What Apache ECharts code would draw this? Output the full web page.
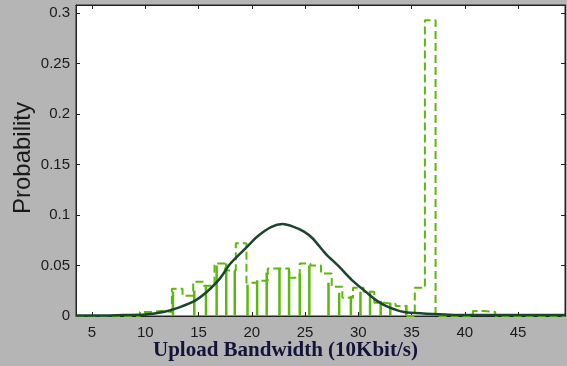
<!DOCTYPE html>
<html><head><meta charset="utf-8">
<script src="https://cdn.jsdelivr.net/npm/echarts@6/dist/echarts.min.js"></script>
<style>html,body{margin:0;padding:0;background:#b5b5b5}#c{width:567px;height:366px}</style>
</head><body><div id="c"></div>
<script>
// tick labels
const xTicks = [5, 10, 15, 20, 25, 30, 35, 40, 45];
const yTicks = [0, 0.05, 0.1, 0.15, 0.2, 0.25, 0.3];

// dashed histogram: bin edges and heights (height i spans edge i .. edge i+1)
const dashEdges = [3.5, 9.5, 10.5, 11.5, 12.5, 13.5, 14.5, 15.5, 16.5, 17.5, 18.5, 19.5, 20.5, 21.5, 22.5, 23.5, 24.5, 25.5, 26.5, 27.5, 28.5, 29.5, 30.5, 31.5, 32.5, 33.5, 34.5, 35.3, 36.25, 37.25, 40.75, 41.85, 42.85, 49.4];
const dashHeights = [0, 0.004, 0.005, 0.004, 0.027, 0.02, 0.034, 0.03, 0.052, 0.045, 0.072, 0.033, 0.035, 0.047, 0.047, 0.038, 0.052, 0.05, 0.042, 0.029, 0.018, 0.028, 0.024, 0.013, 0.012, 0.01, 0.0, 0.028, 0.293, 0, 0.005, 0.004, 0];

// solid vertical lines
const stemX = [12.6, 14.6, 15.7, 16.7, 17.6, 18.4, 19.6, 20.5, 21.4, 22.6, 23.5, 24.5, 25.4, 27.2, 28.2, 29.3, 30.2, 31.1, 32.1, 33.0, 34.5];
const stemY = [0.024, 0.025, 0.03, 0.05, 0.052, 0.045, 0.031, 0.035, 0.043, 0.047, 0.045, 0.042, 0.05, 0.033, 0.023, 0.02, 0.024, 0.025, 0.015, 0.013, 0.011];

// fitted curve
const curveX = [3.5, 5, 8, 10, 11.7, 13.2, 14.8, 16, 17, 18, 19.6, 20.5, 21.8, 22.9, 24, 24.9, 25.7, 26.9, 28.2, 29.4, 30.7, 31.9, 32.9, 34.3, 36.1, 40, 49.4];
const curveY = [0.0005, 0.0005, 0.001, 0.0015, 0.004, 0.0086, 0.016, 0.026, 0.037, 0.052, 0.069, 0.0785, 0.088, 0.091, 0.088, 0.0835, 0.077, 0.062, 0.0488, 0.0356, 0.024, 0.014, 0.0086, 0.004, 0.0025, 0.001, 0.001];

const stairs = [];
for (let i = 0; i < dashHeights.length; i++) {
  stairs.push([dashEdges[i], dashHeights[i]]);
  stairs.push([dashEdges[i + 1], dashHeights[i]]);
}
const stems = stemX.map((x, i) => [x, stemY[i]]);
const curve = curveX.map((x, i) => [x, curveY[i]]);

const GREEN = '#5cb80c';
const AX = '#222';
const lab = {fontFamily: 'Liberation Sans', fontSize: 15, color: '#1a1a1a'};

const chart = echarts.init(document.getElementById('c'));
chart.setOption({
  backgroundColor: '#b5b5b5',
  animation: false,
  grid: {left: 76, top: 5, right: 2, bottom: 50, show: true, backgroundColor: '#fff', borderColor: AX, borderWidth: 1},
  xAxis: [
    {type: 'value', min: 3.5, max: 49.4, position: 'bottom',
     axisLine: {show: true, onZero: false, lineStyle: {color: AX}},
     axisTick: {show: true, inside: true, length: 4, customValues: xTicks, lineStyle: {color: AX}},
     axisLabel: Object.assign({customValues: xTicks, margin: 9}, lab),
     splitLine: {show: false}},
    {type: 'value', min: 3.5, max: 49.4, position: 'top',
     axisLine: {show: true, onZero: false, lineStyle: {color: AX}},
     axisTick: {show: true, inside: true, length: 4, customValues: xTicks, lineStyle: {color: AX}},
     axisLabel: {show: false}, splitLine: {show: false}}
  ],
  yAxis: [
    {type: 'value', min: 0, max: 0.308, position: 'left',
     axisLine: {show: true, lineStyle: {color: AX}},
     axisTick: {show: true, inside: true, length: 4, customValues: yTicks, lineStyle: {color: AX}},
     axisLabel: Object.assign({customValues: yTicks, margin: 6}, lab),
     splitLine: {show: false}},
    {type: 'value', min: 0, max: 0.308, position: 'right',
     axisLine: {show: true, lineStyle: {color: AX}},
     axisTick: {show: true, inside: true, length: 4, customValues: yTicks, lineStyle: {color: AX}},
     axisLabel: {show: false}, splitLine: {show: false}}
  ],
  series: [
    {type: 'bar', data: stems, barWidth: 2.5, itemStyle: {color: GREEN}, silent: true, z: 2},
    {type: 'line', data: stairs, showSymbol: false, symbol: 'none',
     lineStyle: {color: GREEN, width: 2, type: [8, 4]}, z: 3},
    {type: 'line', data: curve, showSymbol: false, symbol: 'none', smooth: 0.3,
     lineStyle: {color: '#1c4530', width: 2.5}, z: 4}
  ],
  graphic: [
    {type: 'text', left: 153, top: 340,
     style: {text: 'Upload Bandwidth (10Kbit/s)', font: 'bold 21px "Liberation Serif"', fill: '#14143a'}},
    {type: 'text', x: 23, y: 158, rotation: Math.PI / 2,
     style: {text: 'Probability', font: '24px "Liberation Sans"', fill: '#1a1a1a', align: 'center', verticalAlign: 'middle'}}
  ]
});
</script>
</body></html>
